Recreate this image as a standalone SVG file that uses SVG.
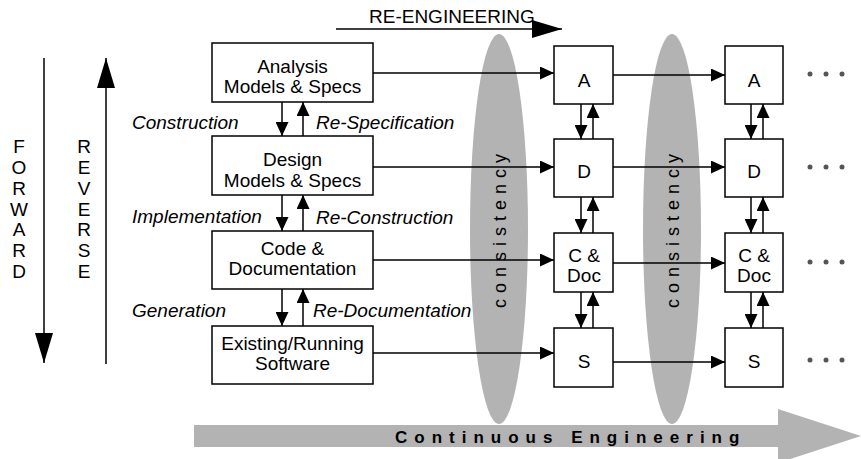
<svg xmlns="http://www.w3.org/2000/svg" width="861" height="459" viewBox="0 0 861 459">
<style>
  text { font-family: "Liberation Sans", Arial, sans-serif; font-size: 19px; fill: #000; }
  .mid { text-anchor: middle; }
  .lbl { font-style: italic; }
  .box { fill: #fff; stroke: #000; stroke-width: 1.5; }
  .ln { fill: none; stroke: #000; stroke-width: 1.5; }
  .gray { fill: #b3b3b3; }
  .ce { font-weight: bold; font-size: 17px; letter-spacing: 7px; }
  .cons { font-size: 18px; letter-spacing: 6px; }
  .dot { fill: #555; }
</style>
<defs>
  <marker id="ah" markerUnits="userSpaceOnUse" markerWidth="14" markerHeight="13" refX="14" refY="6.5" orient="auto">
    <path d="M0,0 L14,6.5 L0,13 Z" fill="#000"/>
  </marker>
  <marker id="big" markerUnits="userSpaceOnUse" markerWidth="30" markerHeight="18" refX="30" refY="9" orient="auto">
    <path d="M0,0 L30,9 L0,18 Z" fill="#000"/>
  </marker>
</defs>

<!-- Continuous engineering band -->
<g id="continuous">
  <rect class="gray" x="194" y="425" width="585" height="22"/>
  <polygon class="gray" points="778,409 861,436 778,463"/>
  <text class="ce" x="395" y="443">Continuous Engineering</text>
</g>

<!-- consistency ellipses -->
<g id="consistency1">
  <ellipse class="gray" cx="499" cy="229" rx="29" ry="195"/>
  <text class="cons" transform="translate(506,308) rotate(-90)">consistency</text>
</g>
<g id="consistency2">
  <ellipse class="gray" cx="672" cy="229" rx="29" ry="195"/>
  <text class="cons" transform="translate(679,308) rotate(-90)">consistency</text>
</g>

<!-- side arrows -->
<g id="forward">
  <line class="ln" x1="44" y1="58" x2="44" y2="363" marker-end="url(#big)"/>
  <text class="mid" x="19" y="153">F</text>
  <text class="mid" x="19" y="174">O</text>
  <text class="mid" x="19" y="195">R</text>
  <text class="mid" x="19" y="216">W</text>
  <text class="mid" x="19" y="236">A</text>
  <text class="mid" x="19" y="257">R</text>
  <text class="mid" x="19" y="278">D</text>
</g>
<g id="reverse">
  <line class="ln" x1="106" y1="364" x2="106" y2="58" marker-end="url(#big)"/>
  <text class="mid" x="84" y="153">R</text>
  <text class="mid" x="84" y="174">E</text>
  <text class="mid" x="84" y="195">V</text>
  <text class="mid" x="84" y="216">E</text>
  <text class="mid" x="84" y="236">R</text>
  <text class="mid" x="84" y="257">S</text>
  <text class="mid" x="84" y="278">E</text>
</g>
<g id="reengineering">
  <text x="369" y="23">RE-ENGINEERING</text>
  <line class="ln" x1="336" y1="29" x2="562" y2="29" marker-end="url(#big)"/>
</g>

<!-- connectors -->
<g id="connectors">
  <!-- left column vertical -->
  <line class="ln" x1="282" y1="102" x2="282" y2="136" marker-end="url(#ah)"/>
  <line class="ln" x1="303" y1="136" x2="303" y2="102" marker-end="url(#ah)"/>
  <line class="ln" x1="282" y1="195" x2="282" y2="231" marker-end="url(#ah)"/>
  <line class="ln" x1="303" y1="231" x2="303" y2="195" marker-end="url(#ah)"/>
  <line class="ln" x1="282" y1="289" x2="282" y2="326" marker-end="url(#ah)"/>
  <line class="ln" x1="303" y1="326" x2="303" y2="289" marker-end="url(#ah)"/>
  <!-- col1 vertical -->
  <line class="ln" x1="581" y1="104" x2="581" y2="139" marker-end="url(#ah)"/>
  <line class="ln" x1="593" y1="139" x2="593" y2="104" marker-end="url(#ah)"/>
  <line class="ln" x1="581" y1="197" x2="581" y2="233" marker-end="url(#ah)"/>
  <line class="ln" x1="593" y1="233" x2="593" y2="197" marker-end="url(#ah)"/>
  <line class="ln" x1="581" y1="292" x2="581" y2="328" marker-end="url(#ah)"/>
  <line class="ln" x1="593" y1="328" x2="593" y2="292" marker-end="url(#ah)"/>
  <!-- col2 vertical -->
  <line class="ln" x1="751" y1="104" x2="751" y2="139" marker-end="url(#ah)"/>
  <line class="ln" x1="763" y1="139" x2="763" y2="104" marker-end="url(#ah)"/>
  <line class="ln" x1="751" y1="197" x2="751" y2="233" marker-end="url(#ah)"/>
  <line class="ln" x1="763" y1="233" x2="763" y2="197" marker-end="url(#ah)"/>
  <line class="ln" x1="751" y1="292" x2="751" y2="328" marker-end="url(#ah)"/>
  <line class="ln" x1="763" y1="328" x2="763" y2="292" marker-end="url(#ah)"/>
  <!-- horizontal: left to col1 -->
  <line class="ln" x1="373" y1="73" x2="554" y2="73" marker-end="url(#ah)"/>
  <line class="ln" x1="373" y1="167" x2="554" y2="167" marker-end="url(#ah)"/>
  <line class="ln" x1="373" y1="260" x2="554" y2="260" marker-end="url(#ah)"/>
  <line class="ln" x1="373" y1="353" x2="554" y2="353" marker-end="url(#ah)"/>
  <!-- horizontal: col1 to col2 -->
  <line class="ln" x1="613" y1="75" x2="725" y2="75" marker-end="url(#ah)"/>
  <line class="ln" x1="613" y1="167" x2="725" y2="167" marker-end="url(#ah)"/>
  <line class="ln" x1="613" y1="263" x2="725" y2="263" marker-end="url(#ah)"/>
  <line class="ln" x1="613" y1="362" x2="725" y2="362" marker-end="url(#ah)"/>
</g>

<!-- connector labels -->
<g id="labels">
  <text class="lbl" x="132" y="129">Construction</text>
  <text class="lbl" x="316" y="129">Re-Specification</text>
  <text class="lbl" x="132" y="223">Implementation</text>
  <text class="lbl" x="316" y="224">Re-Construction</text>
  <text class="lbl" x="132" y="317">Generation</text>
  <text class="lbl" x="313" y="317">Re-Documentation</text>
</g>

<!-- left column nodes -->
<g id="analysis">
  <rect class="box" x="212" y="43" width="161" height="59"/>
  <text class="mid" x="292.5" y="73">Analysis</text>
  <text class="mid" x="292.5" y="93">Models &amp; Specs</text>
</g>
<g id="design">
  <rect class="box" x="212" y="136" width="161" height="59"/>
  <text class="mid" x="292.5" y="166">Design</text>
  <text class="mid" x="292.5" y="187">Models &amp; Specs</text>
</g>
<g id="code">
  <rect class="box" x="212" y="231" width="161" height="58"/>
  <text class="mid" x="292.5" y="255">Code &amp;</text>
  <text class="mid" x="292.5" y="275">Documentation</text>
</g>
<g id="existing">
  <rect class="box" x="212" y="326" width="161" height="58"/>
  <text class="mid" x="292.5" y="350">Existing/Running</text>
  <text class="mid" x="292.5" y="370">Software</text>
</g>

<!-- column 1 nodes -->
<g id="a1">
  <rect class="box" x="554" y="46" width="59" height="58"/>
  <text class="mid" x="584" y="87">A</text>
</g>
<g id="d1">
  <rect class="box" x="554" y="139" width="59" height="58"/>
  <text class="mid" x="584" y="178">D</text>
</g>
<g id="c1">
  <rect class="box" x="554" y="233" width="59" height="59"/>
  <text class="mid" x="584" y="262">C &amp;</text>
  <text class="mid" x="584" y="282">Doc</text>
</g>
<g id="s1">
  <rect class="box" x="554" y="328" width="59" height="59"/>
  <text class="mid" x="584" y="368">S</text>
</g>

<!-- column 2 nodes -->
<g id="a2">
  <rect class="box" x="725" y="46" width="58" height="58"/>
  <text class="mid" x="754" y="87">A</text>
</g>
<g id="d2">
  <rect class="box" x="725" y="139" width="58" height="58"/>
  <text class="mid" x="754" y="178">D</text>
</g>
<g id="c2">
  <rect class="box" x="725" y="233" width="58" height="59"/>
  <text class="mid" x="754" y="262">C &amp;</text>
  <text class="mid" x="754" y="282">Doc</text>
</g>
<g id="s2">
  <rect class="box" x="725" y="328" width="58" height="59"/>
  <text class="mid" x="754" y="368">S</text>
</g>

<!-- continuation dots -->
<g id="dots">
  <circle class="dot" cx="810" cy="74" r="2.5"/><circle class="dot" cx="826" cy="74" r="2.5"/><circle class="dot" cx="842" cy="74" r="2.5"/>
  <circle class="dot" cx="810" cy="167" r="2.5"/><circle class="dot" cx="826" cy="167" r="2.5"/><circle class="dot" cx="842" cy="167" r="2.5"/>
  <circle class="dot" cx="810" cy="262" r="2.5"/><circle class="dot" cx="826" cy="262" r="2.5"/><circle class="dot" cx="842" cy="262" r="2.5"/>
  <circle class="dot" cx="810" cy="360" r="2.5"/><circle class="dot" cx="826" cy="360" r="2.5"/><circle class="dot" cx="842" cy="360" r="2.5"/>
</g>
</svg>
